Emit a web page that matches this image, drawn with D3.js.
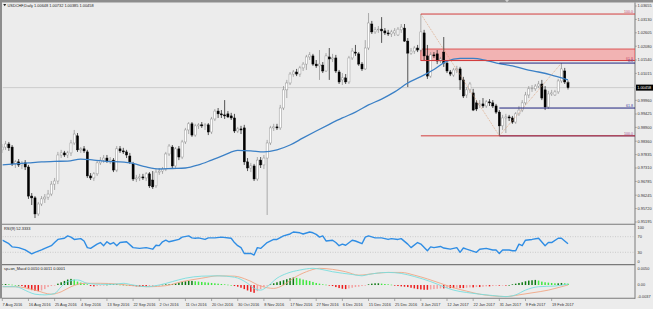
<!DOCTYPE html>
<html><head><meta charset="utf-8">
<script src="https://cdn.jsdelivr.net/npm/d3@7/dist/d3.min.js"></script>
<style>
html,body{margin:0;padding:0;background:#ececec;}
svg{display:block;}
text{font-family:"Liberation Sans",Arial,sans-serif;}
</style></head><body>
<svg id="c" width="653" height="309"></svg>
<script>
// ---------------- DATA ----------------
const symbolTitle = "USDCHF,Daily 1.00648 1.00732 1.00385 1.00458";
const opens = [
0.9802,0.9813,0.9825,0.9813,0.9747,0.9755,0.9743,0.9751,0.9735,0.9621,
0.9614,0.9551,0.9590,0.9610,0.9617,0.9629,0.9668,0.9680,0.9782,0.9790,
0.9782,0.9790,0.9829,0.9857,0.9802,0.9806,0.9794,0.9700,0.9692,0.9708,
0.9751,0.9762,0.9770,0.9758,0.9762,0.9723,0.9806,0.9798,0.9794,0.9778,
0.9747,0.9688,0.9692,0.9696,0.9692,0.9708,0.9684,0.9661,0.9715,0.9719,
0.9727,0.9786,0.9813,0.9739,0.9806,0.9774,0.9833,0.9880,0.9904,0.9860,
0.9896,0.9900,0.9896,0.9900,0.9872,0.9923,0.9954,0.9943,0.9939,0.9943,
0.9935,0.9927,0.9876,0.9884,0.9888,0.9755,0.9731,0.9739,0.9688,0.9762,
0.9743,0.9770,0.9829,0.9888,0.9892,0.9888,0.9966,1.0037,1.0064,1.0099,
1.0107,1.0099,1.0123,1.0138,1.0166,1.0170,1.0138,1.0131,1.0134,1.0111,
1.0166,1.0158,1.0162,1.0107,1.0076,1.0084,1.0068,1.0162,1.0185,1.0178,
1.0138,1.0119,1.0201,1.0295,1.0264,1.0272,1.0275,1.0268,1.0260,1.0256,
1.0260,1.0252,1.0272,1.0279,1.0228,1.0181,1.0189,1.0201,1.0193,1.0260,
1.0170,1.0091,1.0174,1.0178,1.0150,1.0185,1.0142,1.0107,1.0095,1.0115,
1.0119,1.0076,1.0017,1.0037,1.0025,0.9986,0.9978,0.9982,0.9974,0.9990,
0.9986,0.9974,0.9950,0.9896,0.9927,0.9931,0.9927,0.9911,0.9943,0.9958,
0.9986,1.0017,1.0041,1.0041,1.0052,1.0060,1.0037,0.9970,1.0021,1.0017,
1.0029,1.0072,1.0111,1.00648];
const highs = [
0.9825,0.9837,0.9833,0.9821,0.9762,0.9766,0.9758,0.9762,0.9743,0.9633,
0.9621,0.9598,0.9621,0.9629,0.9645,0.9680,0.9692,0.9794,0.9802,0.9798,
0.9798,0.9841,0.9880,0.9868,0.9813,0.9817,0.9802,0.9711,0.9715,0.9762,
0.9774,0.9782,0.9782,0.9774,0.9770,0.9817,0.9817,0.9810,0.9802,0.9790,
0.9755,0.9704,0.9708,0.9708,0.9715,0.9715,0.9719,0.9727,0.9731,0.9735,
0.9794,0.9825,0.9821,0.9813,0.9817,0.9841,0.9888,0.9911,0.9911,0.9904,
0.9907,0.9911,0.9907,0.9907,0.9931,0.9962,0.9966,0.9958,0.9997,0.9954,
0.9947,0.9943,0.9892,0.9896,0.9900,0.9770,0.9751,0.9747,0.9774,0.9774,
0.9782,0.9841,0.9896,0.9904,0.9904,0.9978,1.0052,1.0076,1.0107,1.0115,
1.0119,1.0131,1.0146,1.0174,1.0185,1.0178,1.0154,1.0193,1.0146,1.0181,
1.0201,1.0178,1.0174,1.0115,1.0103,1.0099,1.0170,1.0201,1.0213,1.0185,
1.0146,1.0232,1.0338,1.0307,1.0283,1.0287,1.0322,1.0279,1.0272,1.0272,
1.0279,1.0283,1.0295,1.0295,1.0240,1.0201,1.0209,1.0213,1.0334,1.0272,
1.0213,1.0185,1.0185,1.0193,1.0166,1.0244,1.0154,1.0115,1.0123,1.0131,
1.0127,1.0088,1.0048,1.0068,1.0041,0.9997,0.9997,1.0005,0.9997,1.0001,
0.9997,0.9982,0.9958,0.9939,0.9943,0.9939,0.9935,0.9950,0.9974,0.9997,
1.0029,1.0052,1.0056,1.0060,1.0072,1.0076,1.0052,1.0033,1.0037,1.0037,
1.0080,1.0142,1.0123,1.00732];
const lows = [
0.9790,0.9802,0.9798,0.9739,0.9731,0.9735,0.9727,0.9723,0.9610,0.9586,
0.9535,0.9543,0.9582,0.9594,0.9606,0.9621,0.9645,0.9668,0.9770,0.9774,
0.9770,0.9778,0.9821,0.9794,0.9790,0.9790,0.9692,0.9684,0.9680,0.9700,
0.9743,0.9751,0.9751,0.9747,0.9715,0.9715,0.9790,0.9786,0.9770,0.9747,
0.9680,0.9676,0.9680,0.9684,0.9680,0.9653,0.9649,0.9653,0.9704,0.9708,
0.9719,0.9778,0.9731,0.9731,0.9762,0.9766,0.9825,0.9864,0.9853,0.9853,
0.9884,0.9888,0.9880,0.9860,0.9864,0.9915,0.9927,0.9927,0.9923,0.9927,
0.9919,0.9868,0.9868,0.9864,0.9743,0.9719,0.9715,0.9680,0.9680,0.9731,
0.9727,0.9547,0.9821,0.9876,0.9880,0.9880,0.9958,1.0005,1.0056,1.0088,
1.0091,1.0088,1.0111,1.0115,1.0154,1.0131,1.0123,1.0076,1.0103,1.0107,
1.0076,1.0146,1.0103,1.0060,1.0056,1.0060,1.0060,1.0154,1.0170,1.0131,
1.0111,1.0115,1.0193,1.0256,1.0256,1.0260,1.0221,1.0252,1.0248,1.0244,
1.0248,1.0248,1.0260,1.0225,1.0048,1.0174,1.0178,1.0185,1.0185,1.0154,
1.0080,1.0084,1.0162,1.0138,1.0142,1.0127,1.0103,1.0091,1.0088,1.0103,
1.0037,1.0005,1.0005,1.0025,0.9954,0.9954,0.9966,0.9966,0.9966,0.9974,
0.9966,0.9943,0.9857,0.9880,0.9868,0.9915,0.9904,0.9904,0.9935,0.9950,
0.9978,1.0005,1.0029,1.0033,1.0044,0.9997,0.9958,0.9962,1.0013,1.0013,
1.0021,1.0064,1.0060,1.00385];
const closes = [
0.9813,0.9825,0.9810,0.9747,0.9755,0.9743,0.9751,0.9735,0.9621,0.9614,
0.9551,0.9590,0.9610,0.9617,0.9629,0.9668,0.9680,0.9782,0.9790,0.9782,
0.9790,0.9829,0.9864,0.9802,0.9806,0.9798,0.9700,0.9692,0.9708,0.9751,
0.9762,0.9770,0.9758,0.9762,0.9723,0.9806,0.9798,0.9794,0.9782,0.9755,
0.9688,0.9692,0.9696,0.9692,0.9708,0.9661,0.9657,0.9715,0.9719,0.9727,
0.9786,0.9817,0.9739,0.9806,0.9774,0.9833,0.9880,0.9904,0.9860,0.9896,
0.9900,0.9896,0.9900,0.9872,0.9923,0.9954,0.9943,0.9939,0.9935,0.9931,
0.9927,0.9876,0.9884,0.9880,0.9755,0.9731,0.9739,0.9688,0.9762,0.9743,
0.9770,0.9829,0.9888,0.9892,0.9888,0.9966,1.0037,1.0064,1.0099,1.0107,
1.0099,1.0123,1.0138,1.0166,1.0174,1.0138,1.0131,1.0138,1.0111,1.0170,
1.0158,1.0162,1.0111,1.0068,1.0084,1.0068,1.0162,1.0189,1.0181,1.0138,
1.0119,1.0201,1.0299,1.0264,1.0272,1.0275,1.0268,1.0260,1.0256,1.0264,
1.0268,1.0275,1.0283,1.0228,1.0181,1.0189,1.0201,1.0193,1.0264,1.0170,
1.0091,1.0174,1.0170,1.0150,1.0158,1.0142,1.0111,1.0099,1.0115,1.0119,
1.0076,1.0013,1.0037,1.0060,0.9958,0.9962,0.9982,0.9974,0.9990,0.9986,
0.9974,0.9950,0.9896,0.9927,0.9931,0.9927,0.9911,0.9943,0.9958,0.9986,
1.0017,1.0041,1.0044,1.0052,1.0060,1.0005,0.9970,1.0021,1.0025,1.0029,
1.0072,1.0119,1.0068,1.00458];

const maBars = [0,4,8,12,16,20,24,28,32,36,40,44,48,52,56,60,64,68,72,76,80,84,88,92,96,100,104,108,112,116,120,124,128,132,136,140,144,148,152,156,160,164,168,172,173];
const maValues = [0.9743,0.9747,0.9751,0.9755,0.9757,0.9758,0.9766,0.9762,0.9757,0.9755,0.9749,0.9735,0.9727,0.9729,0.9731,0.9743,0.9762,0.9782,0.9800,0.9798,0.9794,0.9802,0.9821,0.9849,0.9876,0.9902,0.9927,0.9950,0.9978,1.0001,1.0029,1.0064,1.0089,1.0117,1.0150,1.0160,1.0160,1.0152,1.0140,1.0131,1.0117,1.0107,1.0095,1.0080,1.0076];

const priceTicks = [1.03655,1.03130,1.02605,1.02080,1.01540,1.01015,0.99960,0.99425,0.98900,0.98360,0.97835,0.97310,0.96785,0.96245,0.95720,0.95195];
const lastPrice = 1.00458;

const dateLabels = ["7 Aug 2016","16 Aug 2016","25 Aug 2016","4 Sep 2016","13 Sep 2016","22 Sep 2016","2 Oct 2016","11 Oct 2016","20 Oct 2016","30 Oct 2016","8 Nov 2016","17 Nov 2016","27 Nov 2016","6 Dec 2016","15 Dec 2016","25 Dec 2016","3 Jan 2017","12 Jan 2017","22 Jan 2017","31 Jan 2017","9 Feb 2017","19 Feb 2017"];
const dateLabelBars = [0,8,16,24,32,40,48,56,64,72,80,88,96,104,112,120,128,136,144,152,160,168];

const rsiTitle = "RSI(9) 52.3333";
const rsiBars = [0,2,3,5,7,9,10,12,13,15,16,17,19,20,21,22,24,25,26,27,29,30,31,32,33,34,35,36,38,40,42,44,46,47,48,49,50,51,52,54,55,57,58,59,60,62,63,65,67,70,71,72,73,74,76,77,78,79,81,83,84,86,88,89,91,92,94,95,96,97,98,99,101,102,103,104,105,107,108,110,111,112,114,116,118,119,121,122,124,125,127,128,130,131,132,134,135,137,139,140,141,142,145,146,148,150,151,152,153,155,156,157,158,159,160,162,164,166,167,168,170,171,173];
const rsiValues = [61,52,44,42,36,26,30,36,40,47,55,63,66,72,69,63,65,59,42,40,51,55,47,57,51,55,47,55,57,42,40,42,38,48,47,57,61,57,59,63,69,72,67,66,67,63,67,67,69,66,55,47,42,27,27,23,42,40,55,63,63,72,77,82,80,77,82,80,76,69,72,59,61,55,47,51,48,61,59,52,69,72,67,67,63,65,63,65,51,42,55,51,34,44,42,45,41,38,42,30,41,38,30,38,40,36,36,27,36,36,34,34,51,47,61,63,66,47,55,55,66,66,52];
const rsiLevels = [70,30];
const rsiTicks = [100,70,30,0];

const macdTitle = "sp+on_Macd 0.0010 0.0011 0.0001";
const macdHist = [
0.0003,0.0003,0.0002,0.0001,0.0000,0.0000,-0.0003,-0.0007,-0.0012,-0.0015,
-0.0017,-0.0018,-0.0016,-0.0012,-0.0006,-0.0003,-0.0001,0.0004,0.0008,0.0012,
0.0016,0.0018,0.0016,0.0010,0.0007,0.0004,0.0002,-0.0003,-0.0004,-0.0003,
-0.0002,-0.0001,0.0001,0.0002,0.0002,0.0002,0.0001,0.0001,0.0000,-0.0002,
-0.0003,-0.0004,-0.0005,-0.0005,-0.0005,-0.0004,-0.0003,-0.0002,-0.0001,0.0001,
0.0002,0.0002,0.0003,0.0005,0.0007,0.0009,0.0011,0.0012,0.0012,0.0011,
0.0010,0.0009,0.0008,0.0007,0.0006,0.0005,0.0004,0.0003,0.0002,0.0001,
0.0000,-0.0003,-0.0005,-0.0008,-0.0012,-0.0016,-0.0020,-0.0023,-0.0018,-0.0012,
-0.0006,-0.0002,0.0002,0.0005,0.0008,0.0011,0.0014,0.0017,0.0020,0.0022,
0.0021,0.0019,0.0016,0.0014,0.0012,0.0009,0.0006,0.0004,0.0002,0.0001,
-0.0001,-0.0003,-0.0006,-0.0009,-0.0011,-0.0012,-0.0010,-0.0008,-0.0006,-0.0005,
-0.0003,-0.0002,0.0002,0.0004,0.0005,0.0005,0.0004,0.0003,0.0002,0.0001,
-0.0002,-0.0003,-0.0004,-0.0005,-0.0006,-0.0008,-0.0010,-0.0012,-0.0013,-0.0014,
-0.0014,-0.0013,-0.0012,-0.0011,-0.0010,-0.0010,-0.0009,-0.0009,-0.0009,-0.0008,
-0.0009,-0.0009,-0.0008,-0.0007,-0.0007,-0.0006,-0.0006,-0.0005,-0.0004,-0.0004,
-0.0003,-0.0002,-0.0002,-0.0001,-0.0001,0.0000,0.0002,0.0004,0.0006,0.0008,
0.0011,0.0013,0.0014,0.0015,0.0013,0.0010,0.0008,0.0007,0.0006,0.0005,
0.0005,0.0006,0.0005,0.0004];
const macdFastBars = [0,4,8,10,13,16,18,20,23,26,30,34,37,40,44,48,52,56,61,66,71,75,77,79,81,84,87,91,95,97,101,107,110,112,118,122,126,131,135,138,142,146,150,154,157,160,164,169,173];
const macdFastValues = [-0.0005,-0.0005,-0.0020,-0.0027,-0.0029,-0.0025,-0.0005,0.0010,0.0015,0.0005,0.0002,0.0002,0.0005,0.0000,-0.0005,0.0000,0.0010,0.0020,0.0026,0.0027,0.0023,0.0005,-0.0010,-0.0015,-0.0005,0.0020,0.0034,0.0044,0.0049,0.0047,0.0039,0.0031,0.0027,0.0031,0.0037,0.0034,0.0025,0.0010,-0.0005,-0.0015,-0.0022,-0.0027,-0.0031,-0.0034,-0.0029,-0.0015,-0.0005,-0.0003,0.0003];
const macdSlowBars = [0,4,10,15,18,21,25,30,35,40,45,50,55,61,66,71,75,79,83,86,89,93,97,101,105,109,114,118,122,126,130,134,138,142,146,150,154,158,162,167,171,173];
const macdSlowValues = [-0.0005,-0.0005,-0.0015,-0.0027,-0.0020,-0.0005,0.0005,0.0005,0.0003,-0.0002,-0.0005,-0.0002,0.0010,0.0020,0.0027,0.0026,0.0015,-0.0003,-0.0010,0.0000,0.0020,0.0039,0.0049,0.0046,0.0039,0.0029,0.0034,0.0037,0.0037,0.0029,0.0018,0.0005,-0.0008,-0.0018,-0.0027,-0.0032,-0.0034,-0.0029,-0.0023,-0.0015,-0.0005,0.0000];
const macdTickValues = [0.0050,0,-0.0037];
const macdTickLabels = ["0.0050","0.00","-0.0037"];

// Fibonacci objects and zone
const fibRedBars = [128,152];
const fibRedPrices = [1.0334,0.9857];      // 100 -> 0
const fibBlueBars = [152,171];
const fibBluePrices = [0.9857,1.0142];     // 100 -> 0
const fibLevels = [0,61.8,100];
const zoneBar = 128;
const zonePrices = [1.0197,1.0152];

// ---------------- DRAWING ----------------
const W = 653, H = 309;
const plotL = 2.5, plotR = 635;
const mainTop = 3, mainBot = 223.5;
const rsiTop = 225, rsiBot = 264;
const macdTop = 265.5, macdBot = 298;

const svg = d3.select("#c");
svg.append("rect").attr("width",W).attr("height",H).attr("fill","#ececec");

const defs = svg.append("defs");
function clip(id,y0,y1){
  defs.append("clipPath").attr("id",id).append("rect")
    .attr("x",plotL).attr("y",y0).attr("width",plotR-plotL).attr("height",y1-y0);
}
clip("cMain",mainTop,mainBot); clip("cRsi",rsiTop,rsiBot); clip("cMacd",macdTop,macdBot);

const x = d3.scaleLinear().domain([0,173]).range([2.3,568]);
const yP = d3.scaleLinear().domain([0.95195,1.03655]).range([222,6]);
const yR = d3.scaleLinear().domain([0,100]).range([264,225]);
const yM = d3.scaleLinear().domain([-0.0037,0.0050]).range([297.6,268]);

const fontF = "Liberation Sans, Arial, sans-serif";

// frames and separators
svg.append("rect").attr("x",0).attr("y",0).attr("width",W).attr("height",2.5).attr("fill","#8d8d8d");
svg.append("rect").attr("x",0).attr("y",0).attr("width",2).attr("height",298.5).attr("fill","#8d8d8d");
svg.append("path").attr("d","M505,0 L509,0 L507,2.2 Z").attr("fill","#cfcfcf");
[224.2, 264.6, 298.3].forEach(yy=>{
  svg.append("line").attr("x1",2).attr("x2",plotR).attr("y1",yy).attr("y2",yy)
    .attr("stroke","#7a7a7a").attr("stroke-width",1.1);
});
svg.append("line").attr("x1",plotR).attr("x2",plotR).attr("y1",2.5).attr("y2",298.8)
  .attr("stroke","#7a7a7a").attr("stroke-width",1);

// ---- main panel ----
const gMain = svg.append("g").attr("clip-path","url(#cMain)");

// bid line
gMain.append("line").attr("x1",plotL).attr("x2",plotR).attr("y1",yP(lastPrice)).attr("y2",yP(lastPrice))
  .attr("stroke","#c4c4c4").attr("stroke-width",0.8);

// zone rectangle
gMain.append("rect").attr("x",x(zoneBar)).attr("width",plotR-x(zoneBar))
  .attr("y",yP(zonePrices[0])).attr("height",yP(zonePrices[1])-yP(zonePrices[0]))
  .attr("fill","#f2b3b3").attr("stroke","#d94a4a").attr("stroke-width",0.9);

// candles
const bars = d3.range(closes.length).map(i=>({i,o:opens[i],h:highs[i],l:lows[i],c:closes[i]}));
gMain.selectAll("line.wick").data(bars).join("line").attr("class","wick")
  .attr("x1",d=>x(d.i)).attr("x2",d=>x(d.i))
  .attr("y1",d=>yP(d.h)).attr("y2",d=>yP(d.l))
  .attr("stroke",d=>d.c>=d.o?"#8c8c8c":"#111").attr("stroke-width",0.7);
gMain.selectAll("rect.body").data(bars).join("rect").attr("class","body")
  .attr("x",d=>x(d.i)-1.05).attr("width",2.1)
  .attr("y",d=>yP(Math.max(d.o,d.c)))
  .attr("height",d=>Math.max(0.5,Math.abs(yP(d.o)-yP(d.c))))
  .attr("fill",d=>d.c>=d.o?"#ffffff":"#000000")
  .attr("stroke",d=>d.c>=d.o?"#8c8c8c":"#000000").attr("stroke-width",0.45);

// moving average
const maLine = d3.line().x((d,k)=>x(maBars[k])).y(d=>yP(d)).curve(d3.curveMonotoneX);
gMain.append("path").attr("d",maLine(maValues)).attr("fill","none")
  .attr("stroke","#3b80c6").attr("stroke-width",1.3);

// fib trend lines (dotted)
gMain.append("line").attr("x1",x(fibRedBars[0])).attr("y1",yP(fibRedPrices[0]))
  .attr("x2",x(fibRedBars[1])).attr("y2",yP(fibRedPrices[1]))
  .attr("stroke","#d99a70").attr("stroke-width",0.7).attr("stroke-dasharray","1,1");
gMain.append("line").attr("x1",x(fibBlueBars[0])).attr("y1",yP(fibBluePrices[0]))
  .attr("x2",x(fibBlueBars[1])).attr("y2",yP(fibBluePrices[1]))
  .attr("stroke","#d99a70").attr("stroke-width",0.7).attr("stroke-dasharray","1,1");

function fibPrice(prices,lvl){ // prices[0] = 100 level, prices[1] = 0 level
  return prices[1] + (prices[0]-prices[1])*lvl/100;
}
// blue fib levels
fibLevels.forEach(l=>{
  const p = fibPrice(fibBluePrices,l);
  gMain.append("line").attr("x1",x(fibBlueBars[0])).attr("x2",plotR).attr("y1",yP(p)).attr("y2",yP(p))
    .attr("stroke","#1f237f").attr("stroke-width",1);
});
// red fib levels
fibLevels.forEach(l=>{
  const p = fibPrice(fibRedPrices,l);
  gMain.append("line").attr("x1",x(fibRedBars[0])).attr("x2",plotR).attr("y1",yP(p)).attr("y2",yP(p))
    .attr("stroke","#d23c3c").attr("stroke-width",1);
});
// fib labels
const fibLab = svg.append("g").attr("font-family",fontF).attr("font-size",3.6).attr("text-anchor","end");
fibLab.append("text").attr("x",633).attr("y",yP(fibPrice(fibRedPrices,100))-0.8).attr("fill","#c84a6a").text("100.0");
fibLab.append("text").attr("x",633).attr("y",yP(fibPrice(fibRedPrices,61.8))-0.8).attr("fill","#c84a6a").text("61.8");
fibLab.append("text").attr("x",633).attr("y",yP(fibPrice(fibBluePrices,0))-0.6).attr("fill","#3a3fa0").text("0.0");
fibLab.append("text").attr("x",633).attr("y",yP(fibPrice(fibBluePrices,61.8))-0.8).attr("fill","#3a3fa0").text("61.8");
fibLab.append("text").attr("x",633).attr("y",yP(fibPrice(fibBluePrices,100))-0.8).attr("fill","#9a4a8a").text("100.0");

// title
svg.append("path").attr("d","M3.2,4 L6.2,4 L4.7,6.2 Z").attr("fill","#222");
svg.append("text").attr("x",7.5).attr("y",6.6).attr("font-family",fontF).attr("font-size",3.9)
  .attr("fill","#222").text(symbolTitle);

// price axis
const axG = svg.append("g").attr("font-family",fontF).attr("font-size",3.9).attr("fill","#333");
priceTicks.forEach(p=>{
  axG.append("line").attr("x1",plotR).attr("x2",plotR+1.8).attr("y1",yP(p)).attr("y2",yP(p))
    .attr("stroke","#7a7a7a").attr("stroke-width",0.6);
  axG.append("text").attr("x",637.5).attr("y",yP(p)+1.4).text(p.toFixed(5));
});
svg.append("rect").attr("x",636).attr("y",yP(lastPrice)-3).attr("width",17).attr("height",6).attr("fill","#000");
svg.append("text").attr("x",637.2).attr("y",yP(lastPrice)+1.4).attr("font-family",fontF).attr("font-size",3.9)
  .attr("fill","#fff").text(lastPrice.toFixed(5));

// ---- RSI panel ----
const gR = svg.append("g").attr("clip-path","url(#cRsi)");
rsiLevels.forEach(l=>{
  gR.append("line").attr("x1",plotL).attr("x2",plotR).attr("y1",yR(l)).attr("y2",yR(l))
    .attr("stroke","#b5b5b5").attr("stroke-width",0.6).attr("stroke-dasharray","1,1.5");
});
const rsiLine = d3.line().x((d,k)=>x(rsiBars[k])).y(d=>yR(d));
gR.append("path").attr("d",rsiLine(rsiValues)).attr("fill","none")
  .attr("stroke","#2f8de4").attr("stroke-width",1.4).attr("stroke-linejoin","round");
svg.append("text").attr("x",4).attr("y",229.6).attr("font-family",fontF).attr("font-size",3.9)
  .attr("fill","#222").text(rsiTitle);
rsiTicks.forEach(v=>{
  const yy = v===100 ? yR(v)+2.2 : (v===0 ? yR(v)-2 : yR(v));
  axG.append("text").attr("x",637.5).attr("y",yy+1.4).text(v);
});

// ---- MACD panel ----
const gM = svg.append("g").attr("clip-path","url(#cMacd)");
gM.selectAll("rect.h").data(macdHist).join("rect").attr("class","h")
  .attr("x",(d,i)=>x(i)-0.75).attr("width",1.5)
  .attr("y",d=>Math.min(yM(d),yM(0)))
  .attr("height",d=>Math.max(0.6,Math.abs(yM(d)-yM(0))))
  .attr("fill",(d,i)=>{
    const prev = i>0 ? macdHist[i-1] : d;
    if (d>=0) return d>=prev ? "#0d7a12" : "#3fe83f";
    return d<=prev ? "#ec1c1c" : "#f3a0a0";
  });
const fastLine = d3.line().x((d,k)=>x(macdFastBars[k])).y(d=>yM(d)).curve(d3.curveMonotoneX);
const slowLine = d3.line().x((d,k)=>x(macdSlowBars[k])).y(d=>yM(d)).curve(d3.curveMonotoneX);
gM.append("path").attr("d",slowLine(macdSlowValues)).attr("fill","none").attr("stroke","#f0a685").attr("stroke-width",0.9);
gM.append("path").attr("d",fastLine(macdFastValues)).attr("fill","none").attr("stroke","#78dede").attr("stroke-width",0.9);
svg.append("text").attr("x",4).attr("y",269.8).attr("font-family",fontF).attr("font-size",3.9)
  .attr("fill","#222").text(macdTitle);
macdTickValues.forEach((v,k)=>{
  const yy = k===0 ? yM(v)+0.5 : (k===2 ? yM(v)-0.8 : yM(v));
  axG.append("text").attr("x",637.5).attr("y",yy+1.4).text(macdTickLabels[k]);
});

// ---- date axis ----
dateLabelBars.forEach((b,k)=>{
  svg.append("line").attr("x1",x(b)).attr("x2",x(b)).attr("y1",298.5).attr("y2",301)
    .attr("stroke","#7a7a7a").attr("stroke-width",0.6);
  svg.append("text").attr("x",x(b)+0.3).attr("y",305.8).attr("font-family",fontF).attr("font-size",3.9)
    .attr("fill","#333").text(dateLabels[k]);
});
</script>
</body></html>
